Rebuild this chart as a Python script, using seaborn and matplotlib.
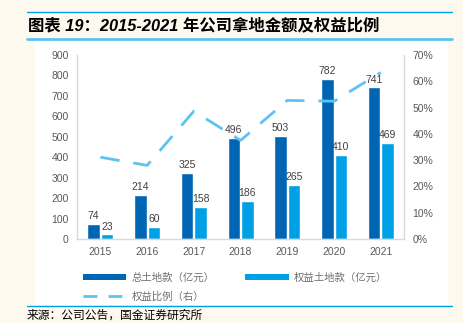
import numpy as np
import pandas as pd
import matplotlib
matplotlib.use("Agg")
import matplotlib.pyplot as plt
import seaborn as sns
from matplotlib.patches import Rectangle, Patch
from matplotlib.lines import Line2D
from matplotlib.ticker import PercentFormatter

years = ["2015", "2016", "2017", "2018", "2019", "2020", "2021"]
total_land = [74, 214, 325, 496, 503, 782, 741]
equity_land = [23, 60, 158, 186, 265, 410, 469]
equity_ratio = [31.1, 28.0, 48.6, 37.5, 52.7, 52.4, 63.3]
series_names = ["总土地款（亿元）", "权益土地款（亿元）"]
line_name = "权益比例（右）"
title = "图表 19：2015-2021 年公司拿地金额及权益比例"
source = "来源：公司公告，国金证券研究所"

sns.set_theme(style="white")
plt.rcParams["font.family"] = ["Liberation Sans", "Noto Sans CJK SC", "DejaVu Sans"]

dark = "#0066b3"
light = "#00a0e6"
line_c = "#5cc3f2"
gray = "#595959"
spine_c = "#d9d9d9"

fig = plt.figure(figsize=(4.64, 3.23), dpi=100)
fig.patch.set_facecolor("#fdf9ee")
fig.add_artist(Rectangle((0.0754, 0.0557), 0.890, 0.820, transform=fig.transFigure,
                         facecolor="white", edgecolor="none", zorder=0))

ax = fig.add_axes([0.166, 0.260, 0.705, 0.570])
ax.set_facecolor("white")

df = pd.DataFrame({
    "year": years * 2,
    "value": total_land + equity_land,
    "series": [series_names[0]] * len(years) + [series_names[1]] * len(years),
})
sns.barplot(data=df, x="year", y="value", hue="series", palette=[dark, light],
            width=0.58, gap=0.08, ax=ax, legend=False, saturation=1)

for cont in ax.containers:
    ax.bar_label(cont, fontsize=7.5, color="#404040", padding=2)

ax.set_ylim(0, 900)
ax.set_yticks(range(0, 901, 100))
ax.set_xlim(-0.5, len(years) - 0.5)
ax.set_xlabel("")
ax.set_ylabel("")
ax.tick_params(axis="both", labelsize=7.5, colors=gray, length=0, pad=6)
for s in ["top", "right"]:
    ax.spines[s].set_visible(False)
for s in ["left", "bottom"]:
    ax.spines[s].set_color(spine_c)
    ax.spines[s].set_linewidth(1.0)

ax2 = ax.twinx()
ldf = pd.DataFrame({"pos": np.arange(len(years)), "ratio": equity_ratio})
sns.lineplot(data=ldf, x="pos", y="ratio", ax=ax2, color=line_c, linewidth=2.0)
ax2.lines[0].set_dashes([7, 5])
ax2.set_ylim(0, 70)
ax2.set_yticks(range(0, 71, 10))
ax2.yaxis.set_major_formatter(PercentFormatter(decimals=0))
ax2.set_xlim(-0.5, len(years) - 0.5)
ax2.set_ylabel("")
ax2.set_xlabel("")
ax2.tick_params(axis="y", labelsize=7.5, colors=gray, length=0, pad=6)
for s in ["top", "left", "bottom"]:
    ax2.spines[s].set_visible(False)
ax2.spines["right"].set_color(spine_c)
ax2.spines["right"].set_linewidth(1.0)
ax2.grid(False)

handles = [
    Patch(facecolor=dark, edgecolor="none"),
    Line2D([0], [0], color=line_c, linewidth=2, dashes=[5, 4]),
    Patch(facecolor=light, edgecolor="none"),
]
labels = [series_names[0], line_name, series_names[1]]
leg = fig.legend(handles, labels, ncol=2, loc="upper left",
                 bbox_to_anchor=(0.158, 0.186), frameon=False, fontsize=7.5,
                 handlelength=4.2, handleheight=0.5, columnspacing=2.9,
                 handletextpad=0.5, labelspacing=0.85)
for t in leg.get_texts():
    t.set_color("#6f6f6f")

# title and decorative lines
fig.add_artist(Line2D([0.058, 0.975], [0.963, 0.963], transform=fig.transFigure,
                      color="#00a0e6", linewidth=1.0))
fig.add_artist(Line2D([0.058, 0.975], [0.880, 0.880], transform=fig.transFigure,
                      color="#5cc3f2", linewidth=2.0))
fig.text(0.060, 0.922, title, fontsize=11.8, fontweight="bold", color="black",
         va="center", ha="left", fontstyle="italic")
fig.add_artist(Line2D([0.058, 0.975], [0.052, 0.052], transform=fig.transFigure,
                      color="#00a0e6", linewidth=1.0))
fig.text(0.058, 0.022, source, fontsize=8.5, color="black", va="center", ha="left")

fig.savefig("out.png", dpi=100, facecolor=fig.get_facecolor())
